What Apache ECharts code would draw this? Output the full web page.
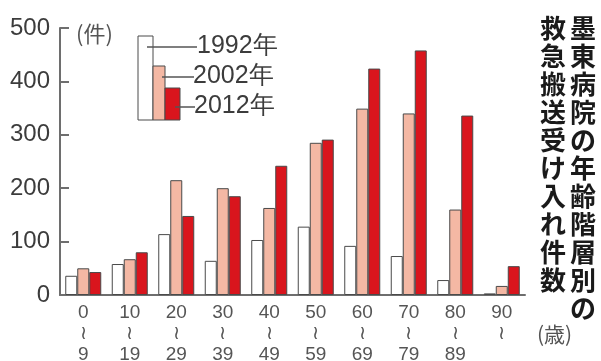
<!DOCTYPE html>
<html>
<head>
<meta charset="utf-8">
<script src="https://cdn.jsdelivr.net/npm/echarts@6/dist/echarts.min.js"></script>
<style>
  html, body { margin: 0; padding: 0; background: #fff; }
  #chart { width: 601px; height: 361px; }
</style>
</head>
<body>
<div id="chart"></div>
<script>
// 年齢階層 (始まり / 終わり)
var ageFrom = ['0', '10', '20', '30', '40', '50', '60', '70', '80', '90'];
var ageTo = ['9', '19', '29', '39', '49', '59', '69', '79', '89', ''];
var years = ['1992年', '2002年', '2012年'];
var v1992 = [36, 58, 114, 64, 103, 128, 92, 73, 28, 3];
var v2002 = [50, 67, 215, 200, 163, 285, 349, 340, 160, 17];
var v2012 = [43, 80, 148, 185, 242, 291, 424, 458, 336, 54];
var yTicks = [0, 100, 200, 300, 400, 500];

var colors = ['#ffffff', '#f4b8a4', '#d9151d'];
var numFont = '"Liberation Sans", Arial, sans-serif';
var jpFont = '"Noto Sans CJK JP", sans-serif';

var myChart = echarts.init(document.getElementById('chart'));

var title1 = '墨東病院の年齢階層別の';
var title2 = '救急搬送受け入れ件数';

function barSeries(name, data, i) {
    return {
        name: name,
        type: 'bar',
        data: data,
        barWidth: 12,
        barGap: '0%',
        itemStyle: {
            color: colors[i],
            borderColor: '#4a4a4a',
            borderWidth: 1
        },
        silent: true
    };
}

var option = {
    animation: false,
    grid: {
        left: 60,
        right: 76,
        top: 28,
        bottom: 66,
        outerBoundsMode: 'none'
    },
    xAxis: {
        type: 'category',
        data: ageFrom,
        axisTick: { show: false },
        axisLine: { lineStyle: { color: '#6e6e6e', width: 2 } },
        axisLabel: {
            color: '#555',
            fontFamily: numFont,
            fontSize: 19,
            lineHeight: 21,
            margin: 7,
            formatter: function (value, idx) {
                return ageTo[idx] ? value + '\n≀\n' + ageTo[idx] : value + '\n≀';
            }
        }
    },
    yAxis: {
        type: 'value',
        min: yTicks[0],
        max: yTicks[yTicks.length - 1],
        interval: 100,
        splitLine: { show: false },
        axisLine: { show: true, lineStyle: { color: '#6e6e6e', width: 2 } },
        axisTick: { show: true, inside: true, length: 9, lineStyle: { color: '#6e6e6e', width: 2 } },
        axisLabel: {
            color: '#3c3c3c',
            fontFamily: numFont,
            fontSize: 24,
            margin: 10
        }
    },
    series: [
        barSeries(years[0], v1992, 0),
        barSeries(years[1], v2002, 1),
        barSeries(years[2], v2012, 2)
    ],
    graphic: [
        // 凡例 (ミニ棒グラフ)
        { type: 'rect', shape: { x: 138, y: 36, width: 15, height: 84 },
          style: { fill: colors[0], stroke: '#4a4a4a', lineWidth: 1 } },
        { type: 'rect', shape: { x: 153, y: 66, width: 12, height: 54 },
          style: { fill: colors[1], stroke: '#4a4a4a', lineWidth: 1 } },
        { type: 'rect', shape: { x: 165, y: 88, width: 15, height: 32 },
          style: { fill: colors[2], stroke: '#4a4a4a', lineWidth: 1 } },
        { type: 'line', shape: { x1: 147, y1: 47, x2: 197, y2: 47 },
          style: { stroke: '#555', lineWidth: 1.5 } },
        { type: 'line', shape: { x1: 162, y1: 77, x2: 194, y2: 77 },
          style: { stroke: '#555', lineWidth: 1.5 } },
        { type: 'line', shape: { x1: 175, y1: 107, x2: 195, y2: 107 },
          style: { stroke: '#555', lineWidth: 1.5 } },
        { type: 'text', x: 197, y: 46,
          style: { text: years[0], font: '25px ' + numFont, fill: '#3c3c3c', textVerticalAlign: 'middle' } },
        { type: 'text', x: 193, y: 76,
          style: { text: years[1], font: '25px ' + numFont, fill: '#3c3c3c', textVerticalAlign: 'middle' } },
        { type: 'text', x: 194, y: 106,
          style: { text: years[2], font: '25px ' + numFont, fill: '#3c3c3c', textVerticalAlign: 'middle' } },
        // 単位
        { type: 'text', x: 76, y: 34,
          style: { text: '(件)', font: '22px ' + jpFont, fill: '#555', textVerticalAlign: 'middle' } },
        { type: 'text', x: 537, y: 334,
          style: { text: '(歳)', font: '21px ' + jpFont, fill: '#555', textVerticalAlign: 'middle' } },
        // 縦書きタイトル
        { type: 'text', x: 583, y: 14,
          style: { text: title1.split('').join('\n'), font: 'bold 26px ' + jpFont,
                   lineHeight: 28, fill: '#1a1a1a', textAlign: 'center' } },
        { type: 'text', x: 553, y: 14,
          style: { text: title2.split('').join('\n'), font: 'bold 26px ' + jpFont,
                   lineHeight: 28, fill: '#1a1a1a', textAlign: 'center' } }
    ]
};

myChart.setOption(option);
</script>
</body>
</html>
